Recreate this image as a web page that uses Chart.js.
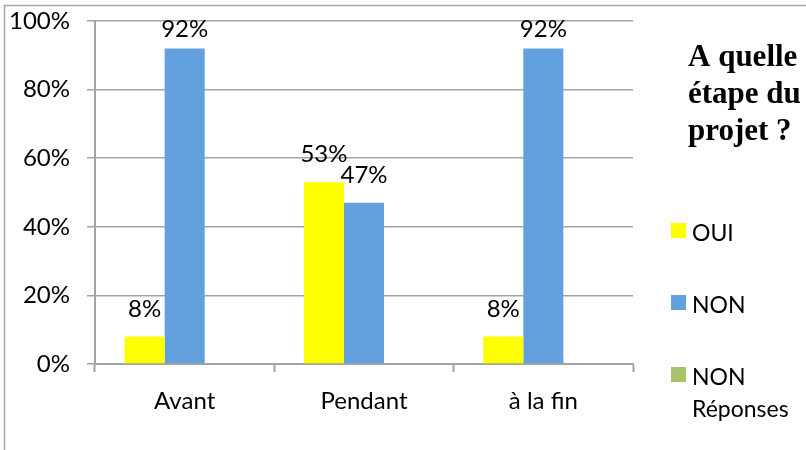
<!DOCTYPE html>
<html>
<head>
<meta charset="utf-8">
<script src="https://cdn.jsdelivr.net/npm/chart.js@4"></script>
<style>
  html, body { margin: 0; padding: 0; background: #fff; }
  #wrap { width: 806px; height: 450px; }
</style>
</head>
<body>
<div id="wrap"><canvas id="barchart"></canvas></div>
<script>
// Daten
const etapes = ['Avant', 'Pendant', 'à la fin'];
const oui = [8, 53, 8];
const non = [92, 47, 92];
const nonReponses = [0, 0, 0];
const yTicks = [0, 20, 40, 60, 80, 100];
const titre = ['A quelle', 'étape du', 'projet ?'];

const police = 'Lato, "Open Sans", sans-serif';
const gris = '#a3a3a3';

// Rahmen, Titel, Legende und Werte-Beschriftung
const dekoPlugin = {
  id: 'deko',
  beforeDraw(chart) {
    const ctx = chart.ctx;
    ctx.save();
    ctx.strokeStyle = '#a6a6a6';
    ctx.lineWidth = 1.5;
    ctx.beginPath();
    ctx.moveTo(4.5, 450);
    ctx.lineTo(4.5, 5.5);
    ctx.lineTo(806, 5.5);
    ctx.stroke();
    ctx.restore();
  },
  afterDatasetsDraw(chart) {
    const ctx = chart.ctx;
    const top = chart.chartArea.top;
    ctx.save();
    ctx.fillStyle = '#000';
    ctx.font = '24px ' + police;
    ctx.textAlign = 'center';
    ctx.textBaseline = 'alphabetic';
    [0, 1].forEach(i => {
      chart.getDatasetMeta(i).data.forEach((bar, j) => {
        const v = chart.data.datasets[i].data[j];
        // Beschriftung über dem Balken, aber nicht über den Plotbereich hinaus
        ctx.fillText(v + '%', bar.x, Math.max(bar.y - 20, top + 16));
      });
    });
    ctx.restore();
  },
  afterDraw(chart) {
    const ctx = chart.ctx;
    ctx.save();
    // Titel
    ctx.fillStyle = '#000';
    ctx.font = 'bold 31px "Liberation Serif", "DejaVu Serif", serif';
    ctx.textAlign = 'left';
    ctx.textBaseline = 'alphabetic';
    titre.forEach((z, i) => ctx.fillText(z, 688, 66 + i * 37));

    // Legende
    ctx.font = '23px ' + police;
    const maxW = 806 - 692 - 2;
    let y = 241;
    chart.data.datasets.forEach(ds => {
      ctx.fillStyle = ds.backgroundColor;
      ctx.fillRect(671, y - 18, 15, 15);
      ctx.fillStyle = '#000';
      const lines = [];
      let cur = '';
      ds.label.split(' ').forEach(w => {
        const t = cur ? cur + ' ' + w : w;
        if (cur && ctx.measureText(t).width > maxW) { lines.push(cur); cur = w; }
        else cur = t;
      });
      lines.push(cur);
      lines.forEach((l, k) => ctx.fillText(l, 692, y + k * 32));
      y += 72;
    });
    ctx.restore();
  }
};

new Chart(document.getElementById('barchart'), {
  type: 'bar',
  data: {
    labels: etapes,
    datasets: [
      { label: 'OUI', data: oui, backgroundColor: '#ffff00' },
      { label: 'NON', data: non, backgroundColor: '#63a0de' },
      { label: 'NON Réponses', data: nonReponses, backgroundColor: '#a7c46b' }
    ]
  },
  options: {
    responsive: true,
    maintainAspectRatio: false,
    animation: false,
    events: [],
    datasets: { bar: { barPercentage: 1, categoryPercentage: 0.67 } },
    layout: { padding: { left: 0, right: 173, top: 21, bottom: 0 } },
    plugins: { legend: { display: false }, tooltip: { enabled: false } },
    scales: {
      x: {
        grid: { drawOnChartArea: false, drawTicks: true, tickLength: 8, tickColor: gris, tickWidth: 2, offset: true },
        border: { display: true, color: gris, width: 2 },
        ticks: { color: '#000', font: { family: police, size: 24 }, padding: 15 },
        afterFit(scale) { scale.height = 86; scale.paddingLeft = 0; scale.paddingRight = 0; }
      },
      y: {
        min: 0,
        max: 100,
        afterBuildTicks(scale) { scale.ticks = yTicks.map(v => ({ value: v })); },
        grid: { color: gris, lineWidth: 1.5, tickLength: 8, tickColor: gris },
        border: { display: true, color: gris, width: 2 },
        ticks: { color: '#000', font: { family: police, size: 24 }, padding: 17, callback: v => v + '%' },
        afterFit(scale) { scale.width = 95; scale.paddingTop = 0; scale.paddingBottom = 0; }
      }
    }
  },
  plugins: [dekoPlugin]
});
</script>
</body>
</html>
